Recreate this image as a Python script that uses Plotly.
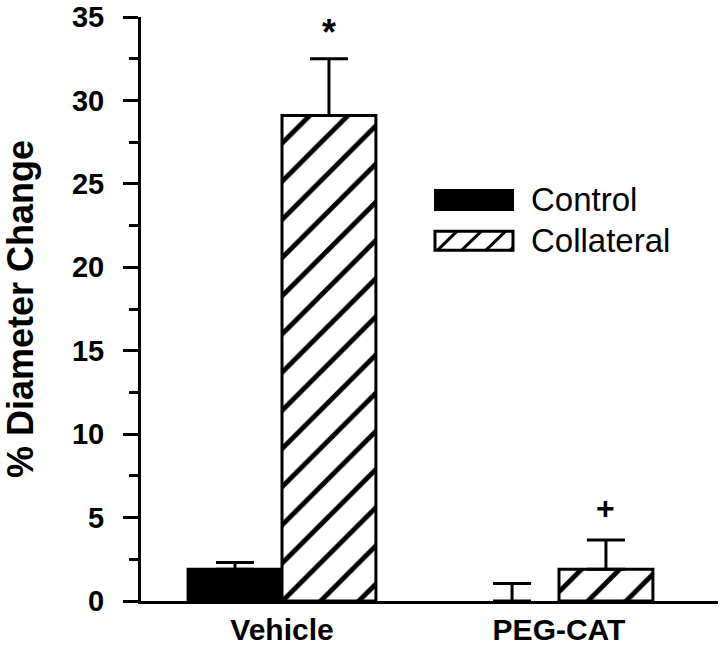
import plotly.graph_objects as go

categories = ["Vehicle", "PEG-CAT"]
control_vals = [1.9, 0.0]
control_err = [0.4, 1.05]
collateral_vals = [29.1, 1.9]
collateral_err = [3.4, 1.75]
series_names = ["Control", "Collateral"]
sig_marks = ["*", "+"]
y_ticks = [0, 5, 10, 15, 20, 25, 30, 35]

x_pos = list(range(len(categories)))
bar_w = 0.339
FONT = "Liberation Sans, Arial, sans-serif"

fig = go.Figure()
fig.add_trace(go.Bar(
    x=x_pos, y=control_vals, name=series_names[0], width=bar_w,
    offset=-bar_w,
    marker=dict(color="black", line=dict(color="black", width=[3 if v else 0 for v in control_vals])),
    error_y=dict(type="data", array=control_err, arrayminus=[0] * len(control_err),
                 symmetric=False, color="black", thickness=3, width=19),
    showlegend=False, hoverinfo="skip",
))
fig.add_trace(go.Bar(
    x=x_pos, y=collateral_vals, name=series_names[1], width=bar_w,
    offset=0,
    marker=dict(color="white", line=dict(color="black", width=3),
                pattern=dict(shape="/", fgcolor="black", bgcolor="white",
                             size=27, solidity=0.18, fillmode="replace")),
    error_y=dict(type="data", array=collateral_err, arrayminus=[0] * len(collateral_err),
                 symmetric=False, color="black", thickness=3, width=19),
    showlegend=False, hoverinfo="skip",
))

# significance marks above collateral bars
sig_style = {"*": (36, 26), "+": (32, 32)}
for i, m in enumerate(sig_marks):
    top = collateral_vals[i] + collateral_err[i]
    sz, sh = sig_style[m]
    fig.add_annotation(x=x_pos[i] + bar_w / 2, y=top, text=f"<b>{m}</b>",
                       showarrow=False, yanchor="middle", yshift=sh,
                       font=dict(family=FONT, size=sz, color="black"))

# custom legend (wide swatches), paper coords of a plot area 141..718 x 17..601
lx0, lx1 = 0.5095, 0.6447
leg_rows = [(0.6695, 0.7038), (0.6005, 0.6330)]
shapes = []
shapes.append(dict(type="rect", xref="paper", yref="paper",
                   x0=lx0, x1=lx1, y0=leg_rows[0][0], y1=leg_rows[0][1],
                   fillcolor="black", line=dict(color="black", width=2)))
h0, h1 = leg_rows[1]
shapes.append(dict(type="rect", xref="paper", yref="paper",
                   x0=lx0, x1=lx1, y0=h0, y1=h1,
                   fillcolor="white", line=dict(color="black", width=3)))
dx = 0.034
step = 0.042
for k in range(4):
    xa = lx0 + 0.004 + k * step
    xb = xa + dx
    if xa >= lx1:
        break
    if xb <= lx1:
        shapes.append(dict(type="line", xref="paper", yref="paper",
                           x0=xa, x1=xb, y0=h0, y1=h1, line=dict(color="black", width=3)))
    else:
        frac = (lx1 - xa) / dx
        shapes.append(dict(type="line", xref="paper", yref="paper",
                           x0=xa, x1=lx1, y0=h0, y1=h0 + (h1 - h0) * frac,
                           line=dict(color="black", width=3)))
for (r0, r1), nm in zip(leg_rows, series_names):
    fig.add_annotation(xref="paper", yref="paper", x=0.672, y=(r0 + r1) / 2,
                       text=nm, showarrow=False, xanchor="left", yanchor="middle",
                       font=dict(family=FONT, size=33, color="black"))

fig.update_layout(
    width=720, height=647,
    margin=dict(l=141, r=2, t=17, b=46, autoexpand=False),
    paper_bgcolor="white", plot_bgcolor="white",
    barmode="overlay",
    shapes=shapes,
    font=dict(family=FONT, color="black"),
    hovermode=False,
)
fig.update_xaxes(
    range=[-0.509, 1.574], tickvals=x_pos, ticktext=[f"<b>{c}</b>" for c in categories],
    showline=True, linecolor="black", linewidth=3, ticks="", showgrid=False,
    zeroline=False, tickfont=dict(family=FONT, size=30, color="black"),
    ticklabeloverflow="allow", ticklabelstandoff=0, automargin=False,
)
fig.update_yaxes(
    range=[0, 35], tickvals=y_ticks, ticktext=[f"<b>{t}</b>" for t in y_ticks],
    showline=True, linecolor="black", linewidth=3, ticks="outside", ticklen=15,
    tickwidth=3, tickcolor="black", showgrid=False, zeroline=False,
    tickfont=dict(family=FONT, size=29, color="black"),
    ticklabeloverflow="allow", ticklabelstandoff=13, automargin=False,
    minor=dict(dtick=2.5, ticks="outside", ticklen=9, tickwidth=3, tickcolor="black", showgrid=False),
    title=dict(text="<b>% Diameter Change</b>", font=dict(family=FONT, size=36, color="black"), standoff=43),
)

fig.write_html("out.html", config={"displayModeBar": False},
               post_script="document.body.style.margin='0';")
